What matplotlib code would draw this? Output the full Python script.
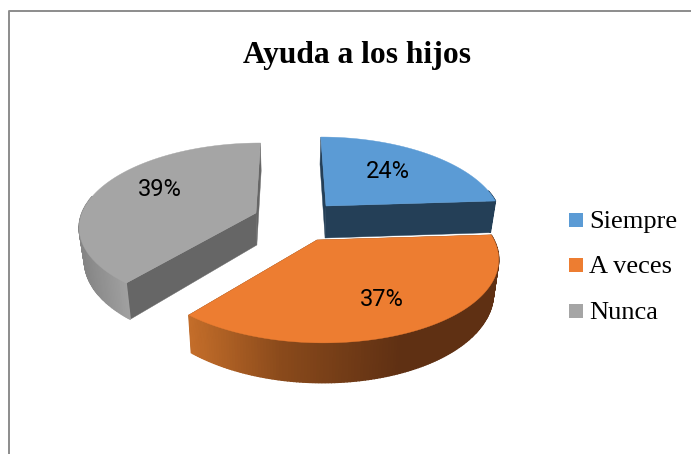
import numpy as np
import matplotlib
matplotlib.use('Agg')
import matplotlib.pyplot as plt
from matplotlib.colors import to_rgb

title = "Ayuda a los hijos"
categories = ["Siempre", "A veces", "Nunca"]
shares = [24, 37, 39]

colors = ["#5B9BD5", "#ED7D31", "#A5A5A5"]
cut_colors = ["#243F57", "#6E3A14", "#666666"]
# apex of each exploded slice, in pixels
apexes = [(326, 206), (317, 240), (256, 213)]
radii = [172, 177, 174]
squash = [80.7, 82.6, 80.5]
tilts = [0.17, 0.197, 0.15]
# wall shading from left to right, (pixel x, colour)
wall_shades = [
    [(300, "#243F57"), (500, "#243F57")],
    [(187, "#C56E2A"), (280, "#8A4A1B"), (400, "#5F3013"), (500, "#5F3013")],
    [(80, "#858585"), (125, "#A0A0A0")],
]
label_pos = [(388, 172), (382, 300), (160, 189)]
legend_base = [228, 273, 319]
legend_mid = [220, 265, 311]

DEPTH = 32
VANISH_X = 290
LEAN = 0.025


def project(i, angle):
    x = np.cos(angle)
    y = np.sin(angle)
    s = 1 / (1 + tilts[i] * y)
    px = VANISH_X + (apexes[i][0] + radii[i] * x - VANISH_X) * s
    py = apexes[i][1] - squash[i] * y * s
    return px, py, DEPTH * s


def shade(stops, x):
    xs = [p[0] for p in stops]
    rgb = np.array([to_rgb(p[1]) for p in stops])
    return [np.interp(x, xs, rgb[:, i]) for i in range(3)]


def lean(x):
    # walls narrow a little towards the bottom
    return x + (VANISH_X - x) * LEAN


fig = plt.figure(figsize=(6.91, 4.54), dpi=100)
ax = fig.add_axes([0, 0, 1, 1])
ax.set_xlim(0, 691)
ax.set_ylim(454, 0)
ax.axis('off')

# chart frame, runs off the picture on the right and bottom
ax.plot([9.5, 9.5, 691], [454, 10.5, 10.5], color="#8c8c8c", lw=1.4)

edges = np.cumsum([0] + shares) / sum(shares)
order = [0, 2, 1]  # orange is in front of the others
for i in order:
    start = np.pi / 2 - 2 * np.pi * edges[i]
    end = np.pi / 2 - 2 * np.pi * edges[i + 1]
    apex = apexes[i]
    angles = np.linspace(start, end, 160)
    px, py, d = project(i, angles)

    # the two cut walls
    for k in [0, -1]:
        ax.fill([apex[0], px[k], lean(px[k]), lean(apex[0])],
                [apex[1], py[k], py[k] + d[k], apex[1] + DEPTH],
                color=cut_colors[i], lw=0.3, zorder=i + 1)

    # outer wall as thin strips so it can be shaded, the back part is hidden anyway
    for j in range(len(angles) - 1):
        if np.sin(angles[j]) > 0.2:
            continue
        col = shade(wall_shades[i], (px[j] + px[j + 1]) / 2)
        ax.fill([px[j], px[j + 1], lean(px[j + 1]), lean(px[j])],
                [py[j], py[j + 1], py[j + 1] + d[j + 1], py[j] + d[j]],
                color=col, lw=1, zorder=i + 1)

    ax.fill(np.r_[apex[0], px], np.r_[apex[1], py], color=colors[i], lw=0.3, zorder=i + 1.5)
    ax.text(label_pos[i][0], label_pos[i][1], str(shares[i]) + "%", family="Roboto",
            fontsize=17, color="black", ha="center", va="center", zorder=10)

ax.text(357, 56, title, family="Liberation Serif", fontweight="bold", fontsize=22.7,
        ha="center", va="center")

for i, name in enumerate(categories):
    y = legend_mid[i]
    ax.add_patch(plt.Rectangle((569, y - 7), 14, 14, color=colors[i], lw=0))
    ax.text(589, legend_base[i], name, family="Liberation Serif", fontsize=19,
            ha="left", va="baseline")

plt.savefig('out.png', dpi=100)
